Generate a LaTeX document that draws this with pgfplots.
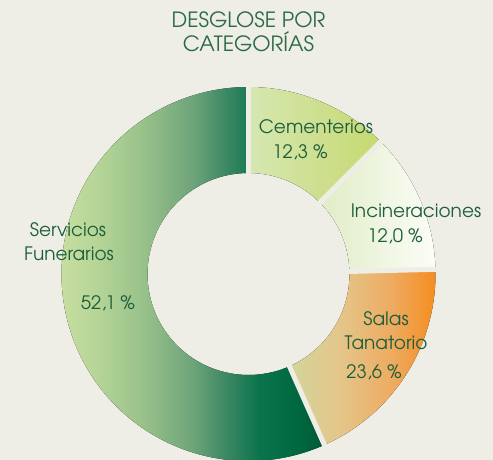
\documentclass[border=0pt]{standalone}
\usepackage{pgfplots}
\pgfplotsset{compat=1.18}
\usepackage{pgfplotstable}
\usepackage{fontspec}
\setmainfont{texgyreadventor}[Extension=.otf,UprightFont=*-regular,BoldFont=*-bold,ItalicFont=*-italic,BoldItalicFont=*-bolditalic]
\definecolor{bg}{HTML}{EEEDE6}
\definecolor{txt}{HTML}{1E5E3C}
\definecolor{ttl}{HTML}{2A6A48}
\definecolor{cemL}{HTML}{D6E7B2}
\definecolor{cemR}{HTML}{C6D970}
\definecolor{incL}{HTML}{E0EDC6}
\definecolor{incR}{HTML}{FCFDF8}
\pgfdeclarehorizontalshading{servshade}{100bp}{color(0bp)=(cemL);
 color(25bp)=({rgb,255:red,203;green,225;blue,162});
 color(34bp)=({rgb,255:red,180;green,212;blue,150});
 color(42bp)=({rgb,255:red,152;green,193;blue,138});
 color(51bp)=({rgb,255:red,110;green,164;blue,122});
 color(57bp)=({rgb,255:red,60;green,136;blue,100});
 color(63bp)=({rgb,255:red,11;green,116;blue,77});
 color(70bp)=({rgb,255:red,0;green,104;blue,64});
 color(75bp)=({rgb,255:red,0;green,90;blue,54});
 color(100bp)=({rgb,255:red,0;green,90;blue,54})}
\pgfdeclarehorizontalshading{salashade}{100bp}{
 color(0bp)=({rgb,255:red,211;green,213;blue,154});
 color(25bp)=({rgb,255:red,211;green,213;blue,154});
 color(42bp)=({rgb,255:red,228;green,198;blue,138});
 color(60bp)=({rgb,255:red,238;green,170;blue,96});
 color(75bp)=({rgb,255:red,245;green,140;blue,28});
 color(100bp)=({rgb,255:red,245;green,140;blue,28})}
% shares of the ring as drawn (percent), clockwise from the top
\pgfplotstableread{
name share
Cementerios 12.5
Incineraciones 12.1
Salas 18.75
Servicios 56.65
}\slices
\pgfplotstablegetelem{0}{share}\of\slices \pgfmathsetmacro\aA{90-3.6*\pgfplotsretval}
\pgfplotstablegetelem{1}{share}\of\slices \pgfmathsetmacro\aB{\aA-3.6*\pgfplotsretval}
\pgfplotstablegetelem{2}{share}\of\slices \pgfmathsetmacro\aC{\aB-3.6*\pgfplotsretval}
\pgfplotstablegetelem{3}{share}\of\slices \pgfmathsetmacro\aD{\aC-3.6*\pgfplotsretval}
\newcommand\ringwedge[3]{%
  \fill[#3,shift={(axis cs:248.5,186)}] (#1:187pt) arc[start angle=#1,end angle=#2,radius=187pt]
    -- (#2:101pt) arc[start angle=#2,end angle=#1,radius=101pt] -- cycle;}
\newcommand\ringgap[1]{%
  \draw[bg,line width=5pt,shift={(axis cs:248.5,186)}] (#1:94pt) -- (#1:196pt);}
\begin{document}
\begin{tikzpicture}
\begin{axis}[
  scale only axis, width=493pt, height=460pt,
  xmin=0, xmax=493, ymin=0, ymax=460,
  hide axis, clip=true,
]
\fill[bg] (axis cs:0,0) rectangle (axis cs:493,460);
\ringwedge{90}{\aA}{left color=cemL,right color=cemR}
\ringwedge{\aA}{\aB}{left color=incL,right color=incR}
\ringwedge{\aB}{\aC}{shading=salashade}
\ringwedge{\aC}{\aD}{shading=servshade}
\ringgap{90}\ringgap{\aA}\ringgap{\aB}\ringgap{\aC}
\begin{scope}[every node/.style={anchor=base,inner sep=0pt,text=txt,font=\fontsize{18.5}{20}\selectfont}]
\node[text=ttl,font=\fontsize{21}{22}\selectfont] at (axis cs:248.5,432) {DESGLOSE POR};
\node[text=ttl,font=\fontsize{21}{22}\selectfont] at (axis cs:248.5,408) {CATEGORÍAS};
\node at (axis cs:316,326) {Cementerios};
\node at (axis cs:300,301) {12,3 \%};
\node at (axis cs:416,242) {Incineraciones};
\node at (axis cs:395,217) {12,0 \%};
\node at (axis cs:386,134) {Salas};
\node at (axis cs:386,110) {Tanatorio};
\node at (axis cs:374,81) {23,6 \%};
\node at (axis cs:68,223) {Servicios};
\node at (axis cs:69,199) {Funerarios};
\node at (axis cs:108,150) {52,1 \%};
\end{scope}
\end{axis}
\end{tikzpicture}
\end{document}
